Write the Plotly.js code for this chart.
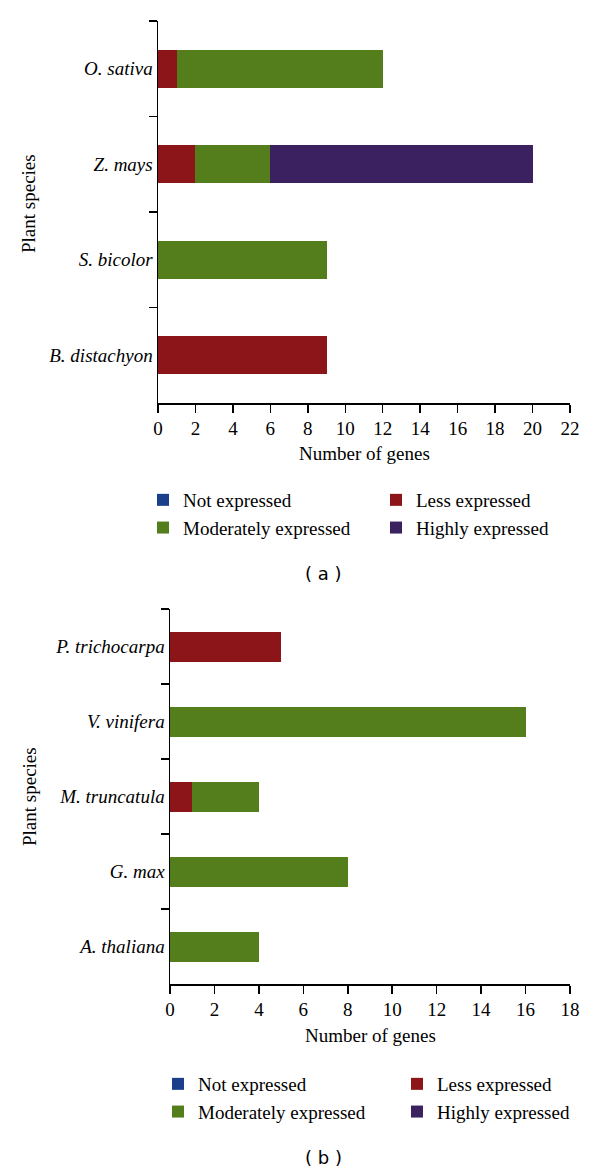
<!DOCTYPE html>
<html>
<head>
<meta charset="utf-8">
<script src="https://cdn.plot.ly/plotly-3.0.1.min.js"></script>
<style>html,body{margin:0;padding:0;background:#fff;}#chart{width:600px;height:1173px;}</style>
</head>
<body>
<div id="chart"></div>
<script>
// ---- data ----
var seriesNames = ["Not expressed", "Less expressed", "Moderately expressed", "Highly expressed"];
var seriesColors = ["#1b3f8b", "#8b1518", "#547e1b", "#3b2160"];

// panel (a): monocots (top to bottom)
var speciesA = ["O. sativa", "Z. mays", "S. bicolor", "B. distachyon"];
var notA      = [0, 0, 0, 0];
var lessA     = [1, 2, 0, 9];
var moderateA = [11, 4, 9, 0];
var highlyA   = [0, 14, 0, 0];

// panel (b): dicots (top to bottom)
var speciesB = ["P. trichocarpa", "V. vinifera", "M. truncatula", "G. max", "A. thaliana"];
var notB      = [0, 0, 0, 0, 0];
var lessB     = [5, 0, 1, 0, 0];
var moderateB = [0, 16, 3, 8, 4];
var highlyB   = [0, 0, 0, 0, 0];

var xTicksA = [0, 2, 4, 6, 8, 10, 12, 14, 16, 18, 20, 22];
var xTicksB = [0, 2, 4, 6, 8, 10, 12, 14, 16, 18];

// ---- layout helpers ----
var W = 600, H = 1173;
function px(x) { return x / W; }
function py(y) { return 1 - y / H; }

var serif = "Liberation Serif, Times New Roman, serif";

function mk(vals, idx, species, xa, ya, legend) {
  return {
    type: "bar", orientation: "h",
    x: vals, y: species,
    name: seriesNames[idx],
    marker: {color: seriesColors[idx], line: {width: 0}},
    xaxis: xa, yaxis: ya,
    legend: legend,
    hoverinfo: "x+y+name"
  };
}

var traces = [
  mk(notA, 0, speciesA, "x", "y", "legend"),
  mk(lessA, 1, speciesA, "x", "y", "legend2"),
  mk(moderateA, 2, speciesA, "x", "y", "legend"),
  mk(highlyA, 3, speciesA, "x", "y", "legend2"),
  mk(notB, 0, speciesB, "x2", "y2", "legend3"),
  mk(lessB, 1, speciesB, "x2", "y2", "legend4"),
  mk(moderateB, 2, speciesB, "x2", "y2", "legend3"),
  mk(highlyB, 3, speciesB, "x2", "y2", "legend4")
];

function xaxisDef(domain, anchor, ticks, maxv) {
  return {
    domain: domain, anchor: anchor,
    range: [0, maxv], autorange: false,
    tickmode: "array", tickvals: ticks, ticktext: ticks.map(String),
    ticks: "outside", ticklen: 8, tickwidth: 1.5, tickcolor: "#000",
    showline: true, linecolor: "#000", linewidth: 1.5,
    showgrid: false, zeroline: false, automargin: false,
    tickfont: {family: serif, size: 19, color: "#000"},
    fixedrange: true
  };
}
function yaxisDef(domain, anchor, cats) {
  return {
    domain: domain, anchor: anchor,
    type: "category", categoryorder: "array", categoryarray: cats,
    range: [cats.length - 0.5, -0.5], autorange: false,
    tickson: "boundaries",
    ticks: "outside", ticklen: 8, tickwidth: 1.5, tickcolor: "#000",
    showline: true, linecolor: "#000", linewidth: 1.5,
    showgrid: false, zeroline: false, automargin: false,
    tickfont: {family: serif, size: 19, color: "#000", style: "italic"},
    fixedrange: true
  };
}

function legendDef(sqx, rowy) {
  return {
    x: px(sqx - 20), xanchor: "left",
    y: py(rowy - 19), yanchor: "top",
    orientation: "v",
    bgcolor: "rgba(0,0,0,0)", borderwidth: 0,
    font: {family: serif, size: 19, color: "#000"},
    traceorder: "normal",
    itemclick: false, itemdoubleclick: false
  };
}

function ann(text, x, y, opts) {
  var a = {
    text: text, x: px(x), y: py(y), xref: "paper", yref: "paper",
    xanchor: "center", yanchor: "middle", showarrow: false,
    font: {family: serif, size: 19, color: "#000"}
  };
  for (var k in opts) a[k] = opts[k];
  return a;
}

var layout = {
  width: W, height: H,
  margin: {l: 0, r: 0, t: 0, b: 0, pad: 0},
  paper_bgcolor: "#fff", plot_bgcolor: "#fff",
  barmode: "stack", bargap: 0.6,
  showlegend: true,
  xaxis: xaxisDef([px(158), px(570)], "y", xTicksA, 22),
  yaxis: yaxisDef([py(403), py(21)], "x", speciesA),
  xaxis2: xaxisDef([px(170), px(570)], "y2", xTicksB, 18),
  yaxis2: yaxisDef([py(984), py(609)], "x2", speciesB),
  legend: legendDef(163, 500),
  legend2: legendDef(396, 500),
  legend3: legendDef(178, 1084),
  legend4: legendDef(417, 1084),
  annotations: [
    ann("Plant species", 28, 204, {textangle: -90}),
    ann("Number of genes", 364, 453),
    ann("( a )", 323, 573, {font: {family: "DejaVu Sans, sans-serif", size: 18, color: "#000"}}),
    ann("Plant species", 29, 797, {textangle: -90}),
    ann("Number of genes", 370, 1035),
    ann("( b )", 323, 1157, {font: {family: "DejaVu Sans, sans-serif", size: 18, color: "#000"}})
  ]
};

Plotly.newPlot("chart", traces, layout, {displayModeBar: false, staticPlot: true});
</script>
</body>
</html>
